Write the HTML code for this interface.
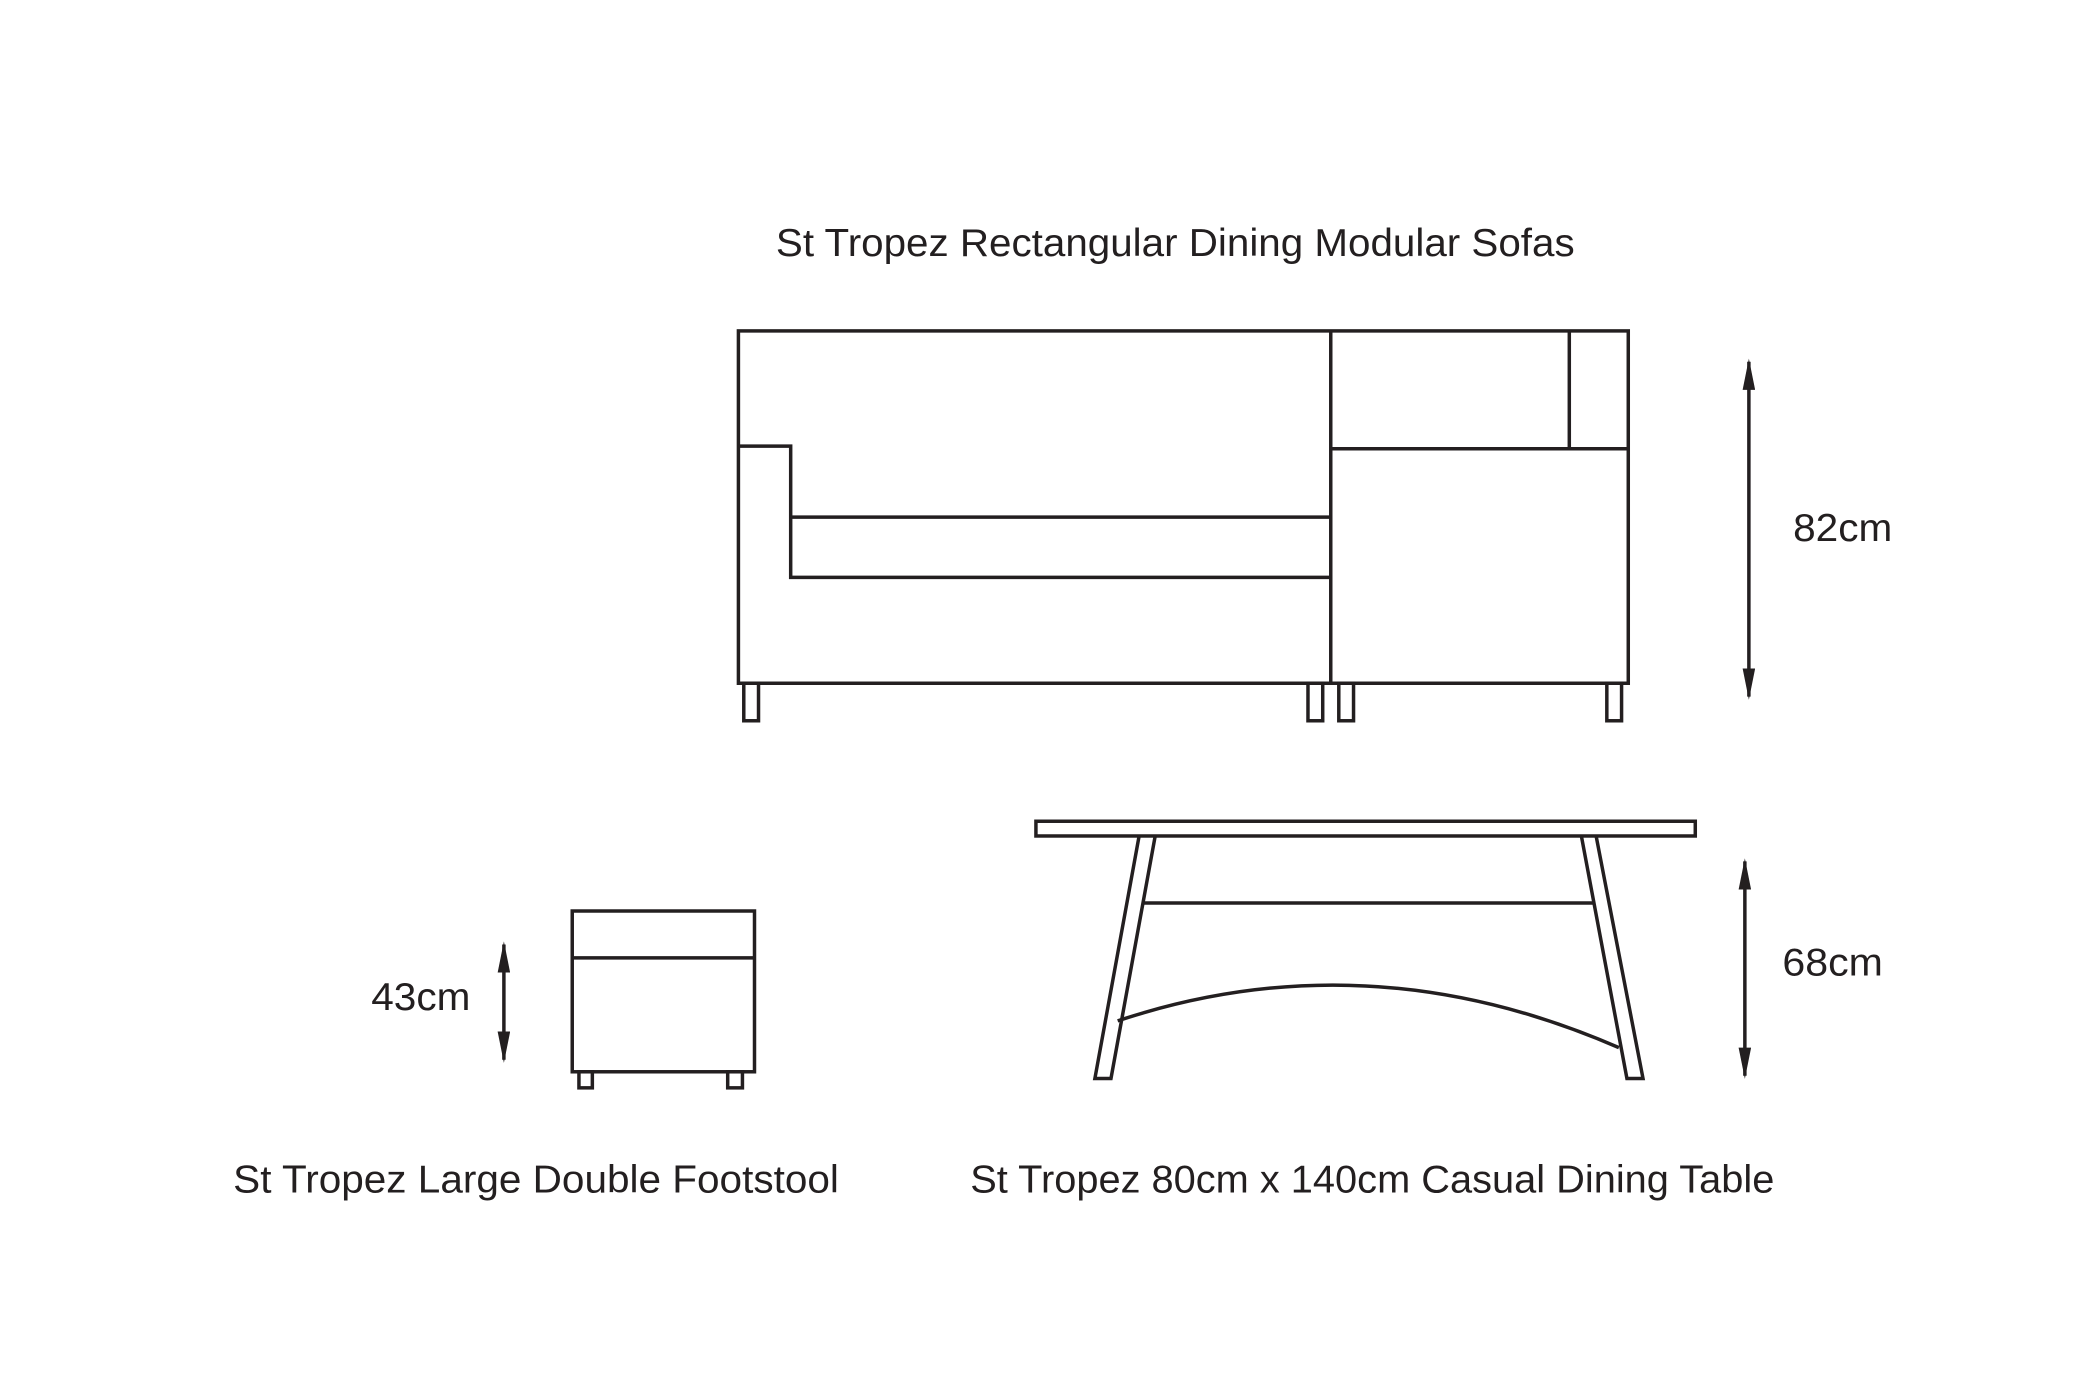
<!DOCTYPE html>
<html><head><style>html,body{margin:0;padding:0;background:#fff;}svg{display:block;}</style></head>
<body>
<svg width="2100" height="1400" viewBox="0 0 1567 1045" preserveAspectRatio="none" xmlns="http://www.w3.org/2000/svg">
<defs>
<marker id="ah" viewBox="0 0 10 4" refX="9" refY="2" markerWidth="9" markerHeight="3.6" orient="auto-start-reverse" markerUnits="strokeWidth"><path d="M0,0 L10,2 L0,4 z" fill="#231f20"/></marker>
</defs>
<g fill="none" stroke="#231f20" stroke-width="2.6">
<rect x="551" y="247" width="664" height="263"/>
<line x1="993" y1="247" x2="993" y2="510"/>
<polyline points="551,333 590,333 590,431 993,431"/>
<line x1="590" y1="386" x2="993" y2="386"/>
<line x1="993" y1="335" x2="1215" y2="335"/>
<line x1="1171" y1="247" x2="1171" y2="335"/>
<rect x="555" y="510" width="11" height="28"/>
<rect x="976" y="510" width="11" height="28"/>
<rect x="999" y="510" width="11" height="28"/>
<rect x="1199" y="510" width="11" height="28"/>
<line x1="1305" y1="270" x2="1305" y2="520" marker-start="url(#ah)" marker-end="url(#ah)"/>
<rect x="773" y="613" width="492" height="11"/>
<polyline points="850,624 817,805 829,805 862,624"/>
<polyline points="1180,624 1214,805 1226,805 1191,624"/>
<line x1="853" y1="674" x2="1190" y2="674"/>
<path d="M834,762 Q1020,700 1208,782"/>
<line x1="1302" y1="643" x2="1302" y2="803" marker-start="url(#ah)" marker-end="url(#ah)"/>
<rect x="427" y="680" width="136" height="120"/>
<line x1="427" y1="715" x2="563" y2="715"/>
<rect x="432" y="800" width="10" height="12"/>
<rect x="543" y="800" width="11" height="12"/>
<line x1="376" y1="705" x2="376" y2="791" marker-start="url(#ah)" marker-end="url(#ah)"/>
</g>
<g font-family="Liberation Sans, sans-serif" fill="#231f20" font-size="29">
<text x="579" y="191" textLength="596" lengthAdjust="spacingAndGlyphs">St Tropez Rectangular Dining Modular Sofas</text>
<text x="1338" y="404" textLength="74" lengthAdjust="spacingAndGlyphs">82cm</text>
<text x="1330" y="728" textLength="75" lengthAdjust="spacingAndGlyphs">68cm</text>
<text x="277" y="754" textLength="74" lengthAdjust="spacingAndGlyphs">43cm</text>
<text x="174" y="890" textLength="452" lengthAdjust="spacingAndGlyphs">St Tropez Large Double Footstool</text>
<text x="724" y="890" textLength="600" lengthAdjust="spacingAndGlyphs">St Tropez 80cm x 140cm Casual Dining Table</text>
</g>
</svg>
</body></html>
